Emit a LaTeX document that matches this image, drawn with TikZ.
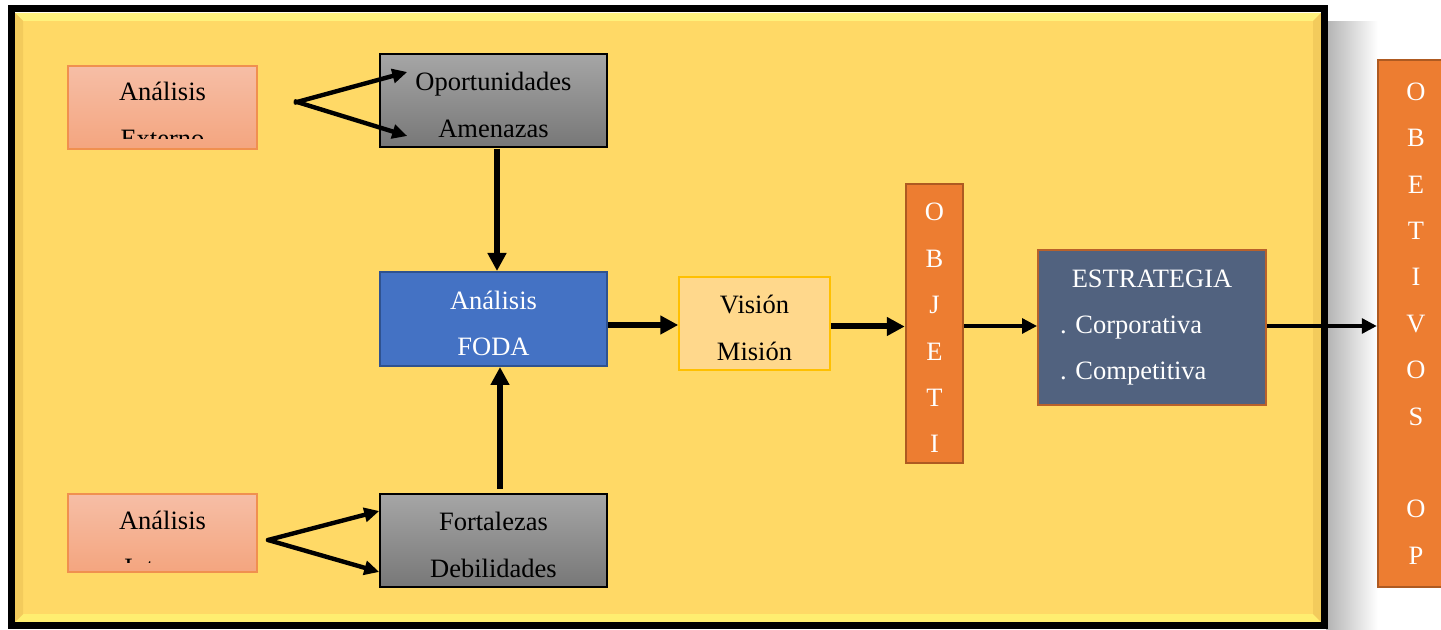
\documentclass[tikz,border=0pt]{standalone}
\usepackage{fontspec}
\setmainfont{Liberation Serif}
\usetikzlibrary{arrows.meta,calc}
\definecolor{bgyel}{HTML}{FFD966}
\definecolor{bevtop}{HTML}{FFF27C}
\definecolor{bevbot}{HTML}{FFEE70}
\definecolor{bevside}{HTML}{F3CB5C}
\definecolor{salmtop}{HTML}{F6BEA6}
\definecolor{salmbot}{HTML}{F4A57F}
\definecolor{salmline}{HTML}{F0904F}
\definecolor{graytop}{HTML}{A6A6A6}
\definecolor{graybot}{HTML}{777777}
\definecolor{fodafill}{HTML}{4472C4}
\definecolor{fodaline}{HTML}{2F528F}
\definecolor{vmfill}{HTML}{FFD88C}
\definecolor{vmline}{HTML}{FFC000}
\definecolor{orfill}{HTML}{ED7D31}
\definecolor{orline}{HTML}{AE5A21}
\definecolor{estfill}{HTML}{51627F}
\definecolor{estline}{HTML}{B8612B}
\newcommand\mystrut{\rule{0pt}{13.5pt}}
\tikzset{
  txt/.style={font=\fontsize{13.25pt}{23.2pt}\selectfont\frenchspacing, inner sep=0pt, align=center},
  salmbox/.style={draw=salmline, line width=0.75pt, top color=salmtop, bottom color=salmbot,
    minimum width=94.5pt, minimum height=41.5pt, inner sep=0pt},
  graybox/.style={txt, draw=black, line width=0.75pt, top color=graytop, bottom color=graybot,
    minimum width=113.5pt, minimum height=46.5pt},
  fodabox/.style={txt, text=white, draw=fodaline, line width=1pt, fill=fodafill,
    minimum width=113.5pt, minimum height=47pt},
  vmbox/.style={txt, draw=vmline, line width=0.75pt, fill=vmfill,
    minimum width=75.5pt, minimum height=46.5pt},
  orbox/.style={txt, text=white, draw=orline, line width=1.25pt, fill=orfill},
  estbox/.style={txt, text=white, draw=estline, line width=1pt, fill=estfill,
    minimum width=114pt, minimum height=77.5pt},
  heavy/.style={line width=3pt, -{Triangle[length=9pt,width=9pt]}},
  diag/.style={line width=2.2pt, -{Triangle[length=7.5pt,width=7pt]}},
  thinarr/.style={line width=1.6pt, -{Triangle[length=7.5pt,width=7.5pt]}}
}
\begin{document}
\begin{tikzpicture}[x=0.5pt,y=-0.5pt]
\useasboundingbox (0,0) rectangle (1441,630);
\fill[white] (0,0) rectangle (1441,630);
% shadow of frame
\shade[left color=black!30, right color=white] (1326,22) rectangle (1378,630);
% yellow panel with bevel
\fill[bgyel] (15,13) rectangle (1321,622);
\fill[bevtop] (15,13) -- (1321,13) -- (1313,21) -- (23,21) -- cycle;
\fill[bevbot] (15,622) -- (1321,622) -- (1313,614) -- (23,614) -- cycle;
\fill[bevside] (15,13) -- (23,21) -- (23,614) -- (15,622) -- cycle;
\fill[bevside] (1321,13) -- (1313,21) -- (1313,614) -- (1321,622) -- cycle;
\draw[line width=3.5pt] (11.5,9) rectangle (1324.5,625.5);

% nodes
\node[salmbox] (ext) at (162.5,107.5) {};
\begin{scope}
  \clip (68,66) rectangle (257,138.5);
  \node[txt] (extt) at (162.5,115) {Análisis\\Externo};
\end{scope}
\node[salmbox, minimum height=39pt] (int) at (162.5,533) {};
\begin{scope}
  \clip (68,494) rectangle (257,562.5);
  \node[txt] (intt) at (162.5,544) {Análisis\\Interno};
\end{scope}

\node[graybox] (opam) at (493.5,100.5) {\mystrut Oportunidades\\Amenazas};
\node[graybox] (fode) at (493.5,540.5) {\mystrut Fortalezas\\Debilidades};
\node[fodabox] (foda) at (493.5,319) {\mystrut Análisis\\FODA};
\node[vmbox] (vm) at (754.5,323.5) {\mystrut Visión\\Misión};
\node[orbox, minimum width=28.5pt, minimum height=139.5pt] (obj) at (934.5,323.5)
  {\mystrut O\\B\\J\\E\\T\\I};
\node[estbox, text width=92pt, align=left] (est) at (1152,327.5)
  {\makebox[92pt][c]{ESTRATEGIA}\\. Corporativa\\. Competitiva};
\node[orbox, minimum width=38pt, minimum height=263.5pt] (obop) at (1416,323.5)
  {O\\B\\E\\T\\I\\V\\O\\S\\[23.2pt]O\\P};

% split points
\coordinate (extsplit) at (297,102);
\coordinate (intsplit) at (268,540);

% connectors
\draw[diag, shorten <=-1.5pt] (extsplit) -- ($(opam.west)+(28,-28.5)$);
\draw[diag, shorten <=-1.5pt] (extsplit) -- ($(opam.west)+(28,35.5)$);
\draw[diag, line cap=round] (intsplit) -- ($(fode.west)+(0,-29.5)$);
\draw[diag, line cap=round] (intsplit) -- ($(fode.west)+(0,31.5)$);
\draw[heavy] ($(opam.south)+(3.5,1)$) -- ($(foda.north)+(3.5,0)$);
\draw[heavy] ($(fode.north)+(6.5,-4)$) -- ($(foda.south)+(6.5,0)$);
\draw[heavy] ($(foda.east)+(0,6)$) -- ($(vm.west)+(0,1.5)$);
\draw[heavy] ($(vm.east)+(0,3)$) -- ($(obj.west)+(0,3)$);
\draw[thinarr] ($(obj.east)+(0,2.5)$) -- ($(est.west)+(0,-1.5)$);
\draw[thinarr] ($(est.east)+(0,-1.5)$) -- ($(obop.west)+(0,2.5)$);
\end{tikzpicture}
\end{document}
